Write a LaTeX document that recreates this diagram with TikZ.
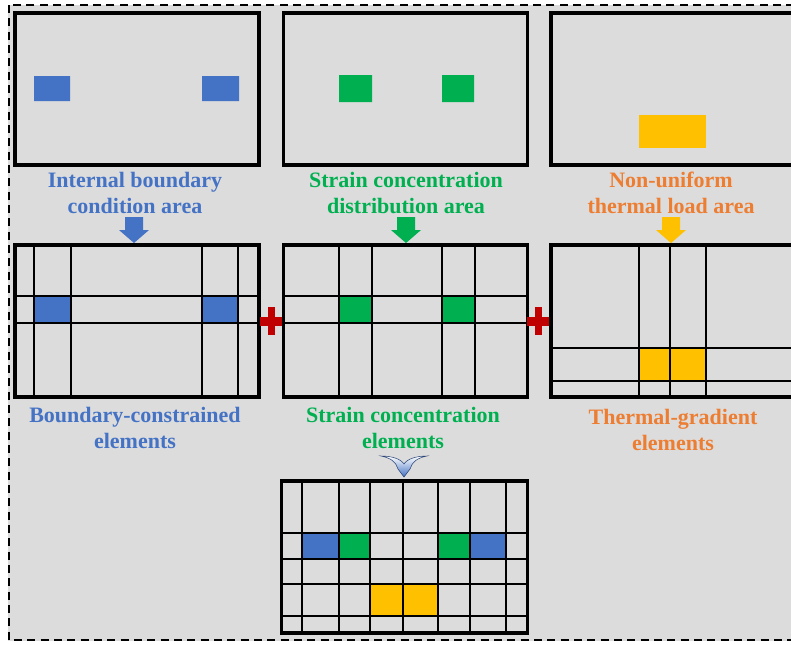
\documentclass[tikz,border=0pt]{standalone}
\usepackage{xcolor}
\usepackage{fontspec}
\setmainfont{Liberation Serif}
\usepackage{tikz}
\usetikzlibrary{positioning,calc}
\definecolor{bcBlue}{HTML}{4472C4}
\definecolor{scGreen}{HTML}{00B050}
\definecolor{tlYellow}{HTML}{FFC000}
\definecolor{tlOrange}{HTML}{ED7D31}
\definecolor{plusRed}{HTML}{C00000}
\definecolor{bgGray}{HTML}{DCDCDC}
\tikzset{
  panel/.style={draw,line width=2.4pt,minimum width=183pt,minimum height=114pt,inner sep=0pt},
  gline/.style={line width=1.5pt},
  lbl/.style={font=\fontsize{16.5}{19.5}\selectfont\bfseries,align=center,inner sep=0pt},
  frame/.style={dash pattern=on 6pt off 4pt,line width=1.5pt},
}
\newcommand{\downarr}[3]{%
  \fill[#3] (#1-9,#2) -- (#1+9,#2) -- (#1+9,#2+13) -- (#1+15,#2+13)
    -- (#1,#2+26) -- (#1-15,#2+13) -- (#1-9,#2+13) -- cycle;}
\newcommand{\redplus}[2]{%
  \fill[plusRed] (#1-11,#2-4.5) rectangle (#1+11,#2+4.5);
  \fill[plusRed] (#1-3.5,#2-14) rectangle (#1+3.5,#2+14);}

\begin{document}
\begin{tikzpicture}[x=0.75pt,y=-0.75pt]
  \useasboundingbox (0,0) rectangle (791,644);
  \clip (0,0) rectangle (791,644);
  \fill[bgGray] (8,5) rectangle (800,641);
  \draw[frame] (9,5) rectangle (800,640);

  % source areas
  \fill[bcBlue] (34,76) rectangle (70,101) (202,76) rectangle (239,101);
  \fill[scGreen] (339,75) rectangle (372,102) (442,75) rectangle (474,102);
  \fill[tlYellow] (639,115) rectangle (706,148);
  \node[panel] (top1) at (137,89) {};
  \node[panel] (top2) at (405.5,89) {};
  \node[panel] (top3) at (673,89) {};

  \node[lbl,text=bcBlue] (ibc) at (135,193) {Internal boundary\\condition area};
  \node[lbl,text=scGreen] (scd) at (406,193) {Strain concentration\\distribution area};
  \node[lbl,text=tlOrange] (ntl) at (671,193) {Non-uniform\\thermal load area};

  \downarr{134}{217}{bcBlue}
  \downarr{406}{217}{scGreen}
  \downarr{671}{217}{tlYellow}

  % element grids
  \fill[bcBlue] (34,296) rectangle (71,323) (202,296) rectangle (238,323);
  \foreach \gx in {34,71,202,238} \draw[gline] (\gx,245) -- (\gx,397);
  \foreach \gy in {296,323} \draw[gline] (15,\gy) -- (259,\gy);
  \node[panel] (mid1) at (137,321) {};

  \fill[scGreen] (339,296) rectangle (372,323) (442,296) rectangle (475,323);
  \foreach \gx in {339,372,442,475} \draw[gline] (\gx,245) -- (\gx,397);
  \foreach \gy in {296,323} \draw[gline] (284,\gy) -- (527,\gy);
  \node[panel] (mid2) at (405.5,321) {};

  \fill[tlYellow] (639,348) rectangle (706,381);
  \foreach \gx in {639,670,706} \draw[gline] (\gx,245) -- (\gx,397);
  \foreach \gy in {348,381} \draw[gline] (551,\gy) -- (800,\gy);
  \node[panel] (mid3) at (673,321) {};

  \redplus{271}{321}
  \redplus{538}{321}

  \node[lbl,text=bcBlue] (bce) at (135,428) {Boundary-constrained\\elements};
  \node[lbl,text=scGreen] (sce) at (403,428) {Strain concentration\\elements};
  \node[lbl,text=tlOrange] (tge) at (673,430) {Thermal-gradient\\elements};

  \shade[top color=white,bottom color=bcBlue,draw=bcBlue!60!black,line width=0.4pt]
    (381,456) .. controls (391,458) and (396,462) .. (398,469) -- (404,477)
    -- (410,469) .. controls (412,462) and (417,458) .. (427,456)
    .. controls (416,456) and (407,459) .. (404,464)
    .. controls (401,459) and (392,456) .. (381,456) -- cycle;

  % combined mesh
  \fill[bcBlue] (302,533) rectangle (339,559) (470,533) rectangle (506,559);
  \fill[scGreen] (339,533) rectangle (370,559) (438,533) rectangle (470,559);
  \fill[tlYellow] (370,584) rectangle (438,616);
  \foreach \gx in {302,339,370,403,438,470,506} \draw[gline] (\gx,481) -- (\gx,633);
  \foreach \gy in {533,559,584,616} \draw[gline] (282,\gy) -- (527,\gy);
  \node[panel,minimum width=184pt] (mesh) at (404.5,557) {};
\end{tikzpicture}
\end{document}
